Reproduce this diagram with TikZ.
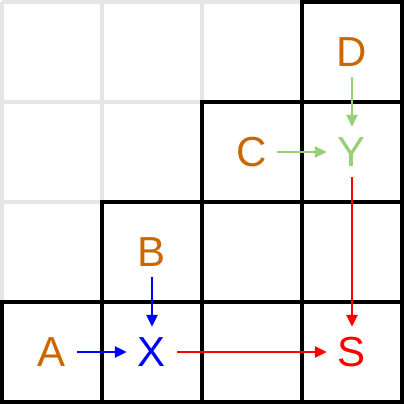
\documentclass[tikz,border=0pt]{standalone}
\usepackage{fontspec}
\setmainfont{Liberation Sans}
\usetikzlibrary{arrows.meta}
\definecolor{lorange}{HTML}{CC6600}
\definecolor{lgreen}{HTML}{97D077}
\definecolor{lgray}{HTML}{E6E6E6}
\begin{document}
\begin{tikzpicture}[x=1pt,y=-1pt,
  lbl/.style={rectangle,inner sep=0pt,minimum width=50pt,minimum height=50pt,font=\fontsize{42}{42}\selectfont},
  arr/.style={line width=2.5pt,-{Triangle[length=12pt,width=11pt]}},
  cell/.style={draw=black,line width=4pt}]
\useasboundingbox (0,0) rectangle (404,404);
% light gray full grid
\foreach \i in {0,...,4}{
  \draw[lgray,line width=3.5pt] (2+100*\i,2) -- (2+100*\i,402);
  \draw[lgray,line width=3.5pt] (2,2+100*\i) -- (402,2+100*\i);
}
% staircase cells
\foreach \r in {0,...,3}{
  \pgfmathtruncatemacro{\cs}{3-\r}
  \foreach \c in {\cs,...,3}{
    \draw[cell] (2+100*\c,2+100*\r) rectangle (102+100*\c,102+100*\r);
  }
}
\node[lbl,text=lorange] (D) at (352,52) {D};
\node[lbl,text=lgreen] (Y) at (352,152) {Y};
\node[lbl,text=lorange] (C) at (252,152) {C};
\node[lbl,text=lorange] (B) at (152,252) {B};
\node[lbl,text=lorange] (A) at (52,352) {A};
\node[lbl,text=blue] (X) at (152,352) {X};
\node[lbl,text=red] (S) at (352,352) {S};
\draw[arr,lgreen] (D) -- (Y);
\draw[arr,lgreen] (C) -- (Y);
\draw[arr,blue] (B) -- (X);
\draw[arr,blue] (A) -- (X);
\draw[arr,red] (X) -- (S);
\draw[arr,red] (Y) -- (S);
\end{tikzpicture}
\end{document}
